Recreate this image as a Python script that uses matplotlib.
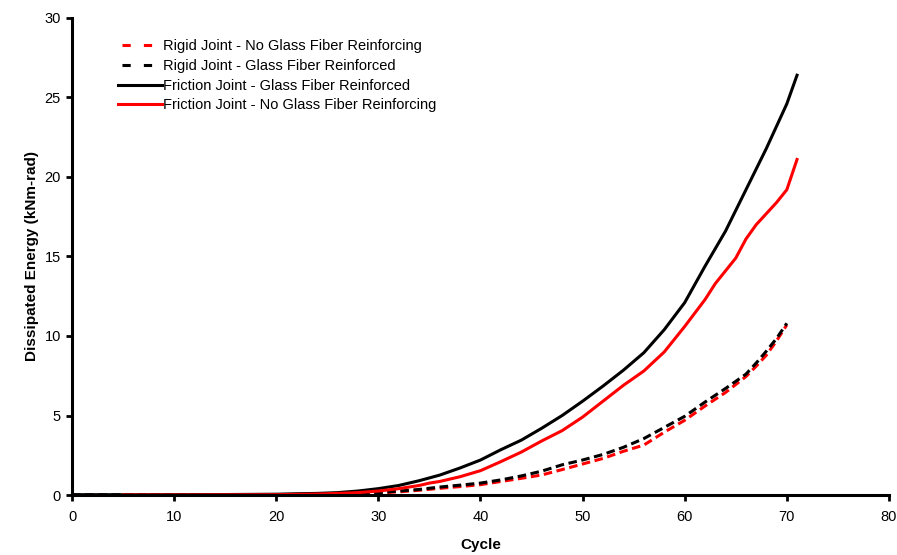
import matplotlib
matplotlib.use('Agg')
import matplotlib.pyplot as plt

plt.rcParams['font.family'] = ['Liberation Sans', 'DejaVu Sans']

# friction joint, glass fiber reinforced
cyc_fgf = [0, 5, 10, 15, 20, 22, 24, 26, 28, 30, 32, 34, 36, 38, 40, 42, 44, 46, 48, 50,
           52, 54, 56, 58, 60, 62, 64, 66, 68, 70, 71]
e_fgf = [0.02, 0.02, 0.02, 0.03, 0.05, 0.08, 0.10, 0.15, 0.25, 0.40, 0.60, 0.90, 1.25, 1.70, 2.20, 2.85, 3.45, 4.20, 5.00, 5.90,
         6.85, 7.85, 8.95, 10.4, 12.1, 14.4, 16.6, 19.2, 21.8, 24.6, 26.4]

# friction joint, no glass fiber
cyc_fno = [5, 10, 15, 20, 22, 24, 26, 28, 30, 32, 34, 35, 36, 38, 40, 42, 44, 46, 48, 50,
           52, 54, 56, 58, 60, 62, 63, 64, 65, 66, 67, 68, 69, 70, 71]
e_fno = [0.0, 0.0, 0.01, 0.02, 0.04, 0.06, 0.10, 0.15, 0.25, 0.40, 0.60, 0.75, 0.85, 1.15, 1.53, 2.10, 2.70, 3.40, 4.05, 4.90,
         5.90, 6.90, 7.80, 9.00, 10.6, 12.3, 13.3, 14.1, 14.9, 16.1, 17.0, 17.7, 18.4, 19.2, 21.1]

# rigid joint, glass fiber reinforced
cyc_rgf = [0, 10, 20, 25, 28, 30, 32, 34, 36, 38, 40, 42, 44, 46, 48, 50, 52, 54, 56, 58,
           60, 62, 64, 66, 67, 68, 69, 70]
e_rgf = [0.0, 0.0, 0.01, 0.03, 0.08, 0.15, 0.25, 0.35, 0.50, 0.62, 0.75, 0.95, 1.20, 1.50, 1.90, 2.20, 2.55, 3.00, 3.55, 4.25,
         4.95, 5.85, 6.70, 7.60, 8.30, 9.05, 9.85, 10.8]

# rigid joint, no glass fiber
cyc_rno = [0, 10, 20, 25, 28, 30, 32, 34, 36, 38, 40, 42, 44, 46, 48, 50, 52, 54, 56, 58,
           60, 62, 64, 66, 67, 68, 69, 70]
e_rno = [0.0, 0.0, 0.01, 0.02, 0.06, 0.12, 0.20, 0.30, 0.42, 0.53, 0.65, 0.85, 1.05, 1.26, 1.60, 1.95, 2.30, 2.75, 3.14, 3.95,
         4.70, 5.60, 6.45, 7.45, 8.10, 8.80, 9.70, 10.7]

fig = plt.figure(figsize=(8.97, 5.55), dpi=100)
ax = fig.add_axes([0.0803, 0.1081, 0.9107, 0.8595])

lw = 2.2
dash = (2.8, 1.5)
ax.plot(cyc_rno, e_rno, color='#ff0000', lw=lw, dashes=dash, label='Rigid Joint - No Glass Fiber Reinforcing')
ax.plot(cyc_rgf, e_rgf, color='black', lw=lw, dashes=dash, label='Rigid Joint - Glass Fiber Reinforced')
ax.plot(cyc_fgf, e_fgf, color='black', lw=lw, label='Friction Joint - Glass Fiber Reinforced')
ax.plot(cyc_fno, e_fno, color='#ff0000', lw=lw, label='Friction Joint - No Glass Fiber Reinforcing')

ax.set_xlim(0, 80)
ax.set_ylim(0, 30)
ax.set_xticks(range(0, 81, 10))
ax.set_yticks(range(0, 31, 5))
for s in ['top', 'right']:
    ax.spines[s].set_visible(False)
for s in ['left', 'bottom']:
    ax.spines[s].set_linewidth(2.2)
ax.tick_params(direction='out', length=4, width=2.0, labelsize=10.5)
ax.tick_params(axis='x', pad=7)
ax.tick_params(axis='y', pad=4)

ax.set_xlabel('Cycle', fontsize=11, fontweight='bold', labelpad=10)
ax.set_ylabel('Dissipated Energy (kNm-rad)', fontsize=11, fontweight='bold', labelpad=4)

leg = ax.legend(loc='upper left', bbox_to_anchor=(0.056, 0.956), frameon=False, fontsize=10.5,
                handlelength=3.0, handletextpad=0.1, labelspacing=0.4, borderpad=0, borderaxespad=0)
# legend keys for the rigid joints: two short dashes
for ln in leg.get_lines()[:2]:
    ln.set_linestyle((5.7, (2.7, 4.3)))

fig.savefig('out.png', dpi=100)
